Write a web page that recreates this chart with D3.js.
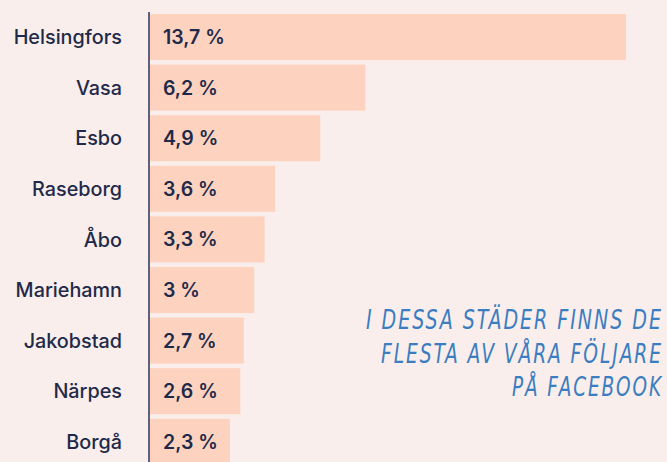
<!DOCTYPE html>
<html>
<head>
<meta charset="utf-8">
<script src="https://cdn.jsdelivr.net/npm/d3@7"></script>
<style>
  html, body { margin: 0; padding: 0; background: #f9eeeb; }
  svg { display: block; }
</style>
</head>
<body>
<div id="chartContainer"></div>
<script>
const width = 667;
const height = 462;

// data
const cities = ["Helsingfors", "Vasa", "Esbo", "Raseborg", "Åbo", "Mariehamn", "Jakobstad", "Närpes", "Borgå"];
const shares = [13.7, 6.2, 4.9, 3.6, 3.3, 3, 2.7, 2.6, 2.3];
const noteLines = ["I DESSA STÄDER FINNS DE", "FLESTA AV VÅRA FÖLJARE", "PÅ FACEBOOK"];
const noteWidths = [297, 282, 151];

const axisX = 149;

const svg = d3.select("#chartContainer")
    .append("svg")
    .attr("width", width)
    .attr("height", height);

svg.append("rect")
    .attr("width", width)
    .attr("height", height)
    .attr("fill", "#f9eeeb");

const x = d3.scaleLinear()
    .domain([0, 13.7])
    .range([axisX + 1, 626]);

const y = d3.scaleBand()
    .domain(cities)
    .range([11.7, 11.7 + 9 * 50.6])
    .paddingInner(0.09)
    .paddingOuter(0.045);

const data = cities.map((c, i) => ({ city: c, value: shares[i] }));

svg.selectAll(".bar")
    .data(data)
    .enter()
    .append("rect")
    .attr("class", "bar")
    .attr("x", x(0))
    .attr("y", d => y(d.city))
    .attr("width", d => x(d.value) - x(0))
    .attr("height", y.bandwidth())
    .attr("fill", "#fdd3bf");

// value labels inside bars
svg.selectAll(".val")
    .data(data)
    .enter()
    .append("text")
    .attr("class", "val")
    .attr("x", x(0) + 13)
    .attr("y", d => y(d.city) + y.bandwidth() / 2)
    .attr("dy", ".36em")
    .text(d => String(d.value).replace(".", ",") + " %")
    .style("font-family", "Inter, 'Noto Sans', sans-serif")
    .style("font-weight", 600)
    .style("font-size", "19.5px")
    .style("fill", "#1f2a4a");

// category axis
const yAxis = svg.append("g")
    .attr("transform", `translate(${axisX},0)`)
    .call(d3.axisLeft(y).tickSize(0).tickPadding(27));

yAxis.select(".domain")
    .attr("d", `M0,12V${height}`)
    .attr("stroke", "#5d6179")
    .attr("stroke-width", 2);

yAxis.selectAll("text")
    .attr("dy", ".36em")
    .style("font-family", "Inter, 'Noto Sans', sans-serif")
    .style("font-weight", 500)
    .style("font-size", "19.8px")
    .style("fill", "#1f2a4a");

// annotation
svg.append("g")
    .selectAll("text")
    .data(noteLines)
    .enter()
    .append("text")
    .attr("x", 663)
    .attr("y", (d, i) => 329 + i * 33.5)
    .attr("text-anchor", "end")
    .attr("textLength", (d, i) => noteWidths[i])
    .attr("lengthAdjust", "spacingAndGlyphs")
    .text(d => d)
    .style("font-family", "'Liberation Sans Narrow', 'DejaVu Sans Condensed', sans-serif")
    .style("font-style", "italic")
    .style("font-size", "27px")
    .style("letter-spacing", "2.5px")
    .style("fill", "#3b7dc1");
</script>
</body>
</html>
